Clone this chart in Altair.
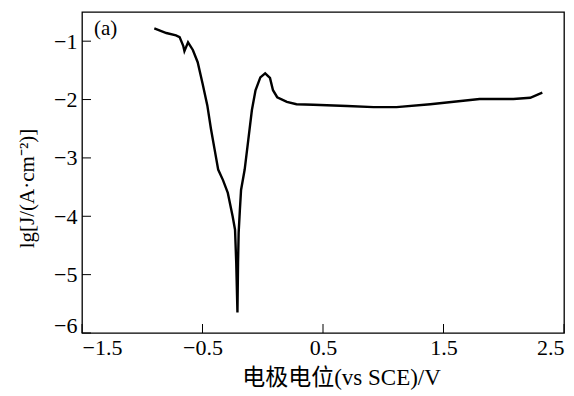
import altair as alt
import pandas as pd

potential = [-0.90, -0.80, -0.72, -0.69, -0.66, -0.65, -0.62, -0.58, -0.54, -0.50,
             -0.46, -0.43, -0.40, -0.37, -0.33, -0.29, -0.25, -0.23, -0.22, -0.21,
             -0.205, -0.20, -0.19, -0.18, -0.15, -0.12, -0.09, -0.06, -0.02, 0.02,
             0.06, 0.085, 0.12, 0.20, 0.28, 0.42, 0.70, 0.92, 1.11, 1.39,
             1.80, 2.08, 2.22, 2.32]
lg_j = [-0.78, -0.86, -0.90, -0.93, -1.08, -1.17, -1.02, -1.15, -1.36, -1.72,
        -2.10, -2.50, -2.85, -3.20, -3.38, -3.60, -4.00, -4.23, -4.80, -5.65,
        -4.80, -4.28, -3.90, -3.55, -3.20, -2.69, -2.18, -1.84, -1.62, -1.55,
        -1.63, -1.84, -1.96, -2.04, -2.08, -2.09, -2.11, -2.13, -2.13, -2.08,
        -1.99, -1.99, -1.97, -1.88]

x_ticks = [-1.5, -0.5, 0.5, 1.5, 2.5]
y_ticks = [-6, -5, -4, -3, -2, -1]

df = pd.DataFrame({"E": potential, "lgJ": lg_j, "i": list(range(len(potential)))})
xt = pd.DataFrame({"v": x_ticks})
yt = pd.DataFrame({"v": y_ticks})

FONT = "'Liberation Serif', 'Times New Roman', serif"
TFONT = "'Liberation Serif', 'Noto Sans CJK SC', serif"
xs = alt.Scale(domain=[-1.5, 2.5], nice=False, zero=False)
ys = alt.Scale(domain=[-6, -0.5], nice=False, zero=False)

line = alt.Chart(df).mark_line(color="black", strokeWidth=2.4).encode(
    x=alt.X("E:Q", scale=xs, axis=alt.Axis(
        values=x_ticks, format=".1f", ticks=False, grid=False, domain=False,
        labelFont=FONT, labelFontSize=22, labelColor="black", labelPadding=4,
        title="电极电位(vs SCE)/V", titleFont=TFONT, titleFontSize=23,
        titleFontWeight="normal", titleColor="black",
        titleX=259, titleY=44, titleBaseline="middle", titleAlign="center")),
    y=alt.Y("lgJ:Q", scale=ys, axis=alt.Axis(
        values=y_ticks, format="d", ticks=False, grid=False, domain=False,
        labelFont=FONT, labelFontSize=22, labelColor="black", labelPadding=5,
        labelOffset=alt.ExprRef(expr="datum.value == -6 ? -8 : 0"),
        title="lg[J/(A·cm⁻²)]", titleFont=FONT, titleFontSize=21,
        titleFontWeight="normal", titleColor="black",
        titleX=-55, titleY=176, titleAngle=270, titleBaseline="middle",
        titleAlign="center")),
    order="i:Q",
)

xtick = alt.Chart(xt).mark_rule(color="black", strokeWidth=1).encode(
    x=alt.X("v:Q", scale=xs), y=alt.value(321), y2=alt.value(312))
ytick = alt.Chart(yt).mark_rule(color="black", strokeWidth=1).encode(
    y=alt.Y("v:Q", scale=ys), x=alt.value(0), x2=alt.value(9))

label = alt.Chart(pd.DataFrame({"t": ["(a)"]})).mark_text(
    font=FONT, fontSize=21, align="left", baseline="middle", color="black"
).encode(x=alt.value(12), y=alt.value(17), text="t:N")

chart = alt.layer(line, xtick, ytick, label).properties(
    width=482, height=321,
    autosize=alt.AutoSizeParams(type="none"),
    padding={"left": 82, "top": 12, "right": 10, "bottom": 63},
).configure(background="white").configure_view(stroke="black", strokeWidth=1.3)

chart.save("out.html", embed_options={"renderer": "svg", "actions": False})
